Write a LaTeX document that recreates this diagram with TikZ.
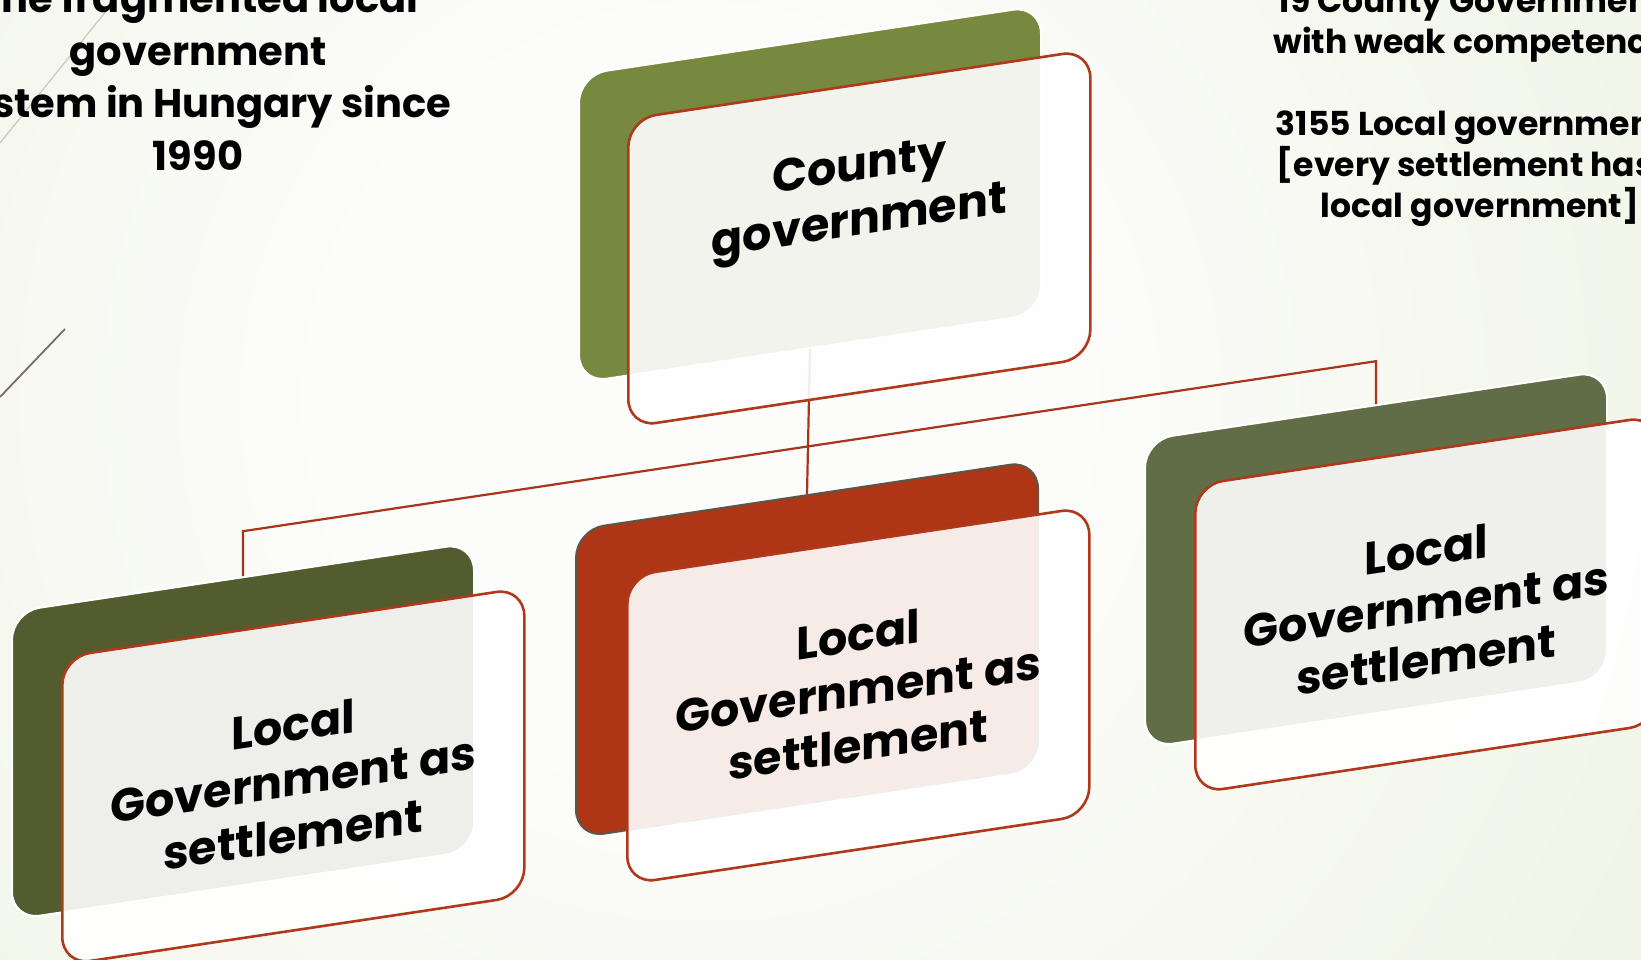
\documentclass[tikz,border=0pt]{standalone}
\usepackage{fontspec}
\setmainfont{Poppins}
\usetikzlibrary{calc}

\definecolor{bgin}{HTML}{FCFCFA}
\definecolor{bgmid}{HTML}{F6F8F0}
\definecolor{bgsoft}{HTML}{EEF3E3}
\definecolor{bgout}{HTML}{E5ECD2}
\definecolor{countygreen}{HTML}{77893F}
\definecolor{darkolive}{HTML}{525C2E}
\definecolor{rust}{HTML}{AE3516}
\definecolor{mossgreen}{HTML}{606D47}
\definecolor{edgered}{HTML}{B0391B}
\definecolor{linkred}{HTML}{A8341A}
\definecolor{rustedge}{HTML}{5B5846}
\definecolor{decolight}{HTML}{C9CCBF}
\definecolor{decodark}{HTML}{77705F}

\pgfdeclareradialshading{slidebg}{\pgfpoint{0bp}{0bp}}%
  {color(0bp)=(bgin); color(8bp)=(bgin); color(16bp)=(bgmid);
   color(27bp)=(bgsoft); color(40bp)=(bgout); color(50bp)=(bgout)}

\tikzset{
  card/.style={anchor=north west, minimum width=462pt, minimum height=308pt,
    inner sep=0pt, rounded corners=28pt, yslant=0.15},
  backcard/.style={card, line width=2pt},
  frontcard/.style={card, draw=edgered, line width=2.6pt, fill=white, fill opacity=0.9},
  cardtext/.style={font=\bfseries\fontsize{46}{55}\selectfont, align=center,
    yslant=0.15, inner sep=0pt, text=black},
  titletext/.style={font=\bfseries\fontsize{40}{52.5}\selectfont, align=center,
    anchor=base, inner sep=0pt},
  notetext/.style={font=\bfseries\fontsize{33}{41}\selectfont, align=center,
    anchor=base, inner sep=0pt},
  link/.style={draw=linkred, line width=2.2pt},
}

\begin{document}
\begin{tikzpicture}[x=1pt,y=-1pt]
  \useasboundingbox (0,0) rectangle (1641,960);
  \clip (0,0) rectangle (1641,960);

  % slide background
  \fill[bgout] (0,0) rectangle (1641,960);
  \shade[shading=slidebg] (700,400) circle (1150);
  \draw[decolight, line width=1.3pt] (0,143) -- (115,0);
  \draw[decodark, line width=1.8pt] (0,397) -- (65,329);

  % headings (anchored at the baseline of their last line)
  \node[titletext] (title) at (198,170.5)
    {The fragmented local\\government\\system in Hungary since\\1990};
  \node[notetext] (notes) at (1480,218)
    {19 County Governments\\with weak competences\\[41pt]3155 Local governments\\{[}every settlement has a\\local government{]}};

  % back cards
  \node[backcard, fill=countygreen, draw=white] (cb) at (578,74) {};
  \node[backcard, fill=darkolive, draw=white] (lb) at (11,611) {};
  \node[backcard, fill=rust, draw=rustedge] (mb) at (575,529) {};
  \node[backcard, fill=mossgreen, draw=white] (rb) at (1144,439) {};

  % connectors
  \coordinate (busL) at ($(lb.north)+(0,-45)$);
  \coordinate (busR) at ($(rb.north)+(0,-43)$);
  \draw[link] (lb.north) -- (busL) -- (busR) -- (rb.north);
  \draw[link] (cb.south) -- (mb.north);

  % front cards
  \node[frontcard] (cf) at (627,118) {};
  \node[frontcard] (lf) at (61,656) {};
  \node[frontcard] (mf) at (626,575) {};
  \node[frontcard] (rf) at (1194,484) {};

  % card labels
  \node[cardtext] (ct) at ($(cf.center)+(0,-41)$) {County\\government};
  \node[cardtext] (lt) at ($(lf.center)+(0,3)$) {Local\\Government as\\settlement};
  \node[cardtext] (mt) at ($(mf.center)+(0,-6)$) {Local\\Government as\\settlement};
  \node[cardtext] (rt) at (rf.center) {Local\\Government as\\settlement};
\end{tikzpicture}
\end{document}
